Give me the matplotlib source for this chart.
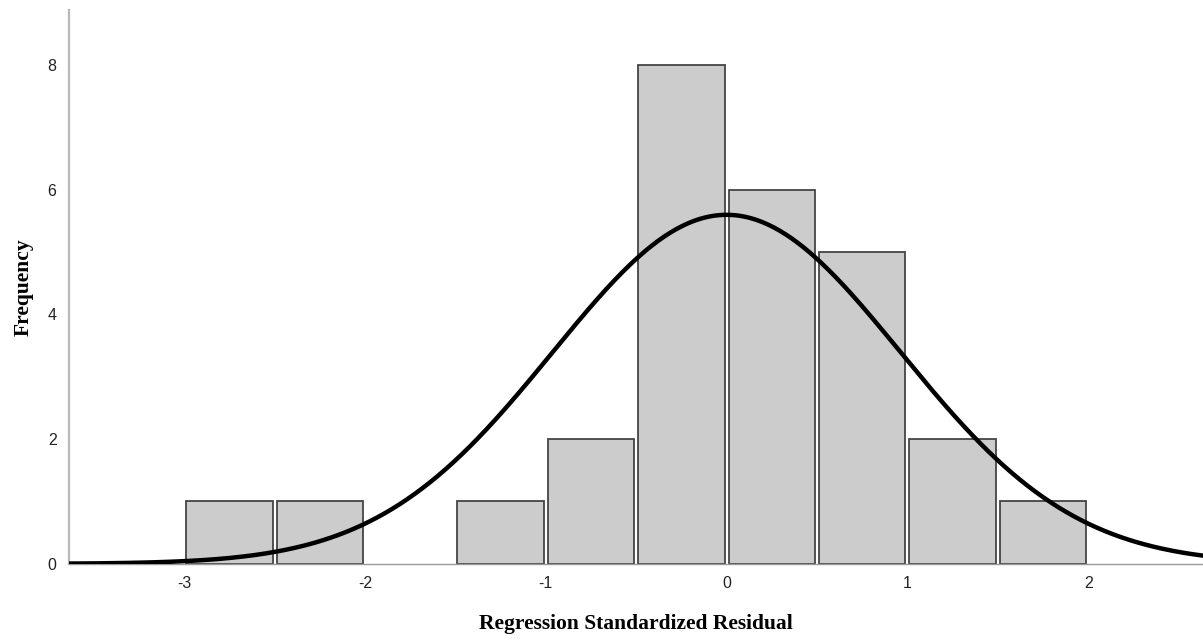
import numpy as np
import matplotlib
matplotlib.use("Agg")
import matplotlib.pyplot as plt

plt.rcParams["axes.unicode_minus"] = False

# histogram of standardized residuals (bin width 0.5)
bin_left = [-3.0, -2.5, -2.0, -1.5, -1.0, -0.5, 0.0, 0.5, 1.0, 1.5]
counts = [1, 1, 0, 1, 2, 8, 6, 5, 2, 1]
bin_width = 0.5

# normal curve fitted to the residuals
n_obs = 27
mean_res = 0.0
std_res = 0.962

xticks = [-3, -2, -1, 0, 1, 2]
yticks = [0, 2, 4, 6, 8]

fig = plt.figure(figsize=(12.03, 6.4), dpi=100)
ax = fig.add_axes([0.0574, 0.119, 0.9426, 0.865])

# empty bins are not drawn at all
left = np.array(bin_left)
cnt = np.array(counts)
keep = cnt > 0
gap = 0.022
ax.bar(left[keep] + gap / 2, cnt[keep], width=bin_width - gap, align="edge",
       color="#cccccc", edgecolor="#444444", linewidth=1.3, zorder=2)

xs = np.linspace(-3.7, 2.7, 600)
ys = n_obs * bin_width / (std_res * np.sqrt(2 * np.pi)) * np.exp(-0.5 * ((xs - mean_res) / std_res) ** 2)
ax.plot(xs, ys, color="black", linewidth=3.2, zorder=3)

ax.set_xlim(-3.637, 2.635)
ax.set_ylim(0, 8.88)
ax.set_xticks(xticks)
ax.set_yticks(yticks)
ax.tick_params(length=0, labelsize=11.5, colors="#222222", pad=9)
for lab in ax.get_xticklabels() + ax.get_yticklabels():
    lab.set_family("Liberation Sans")

for s in ["top", "right"]:
    ax.spines[s].set_visible(False)
ax.spines["left"].set_color("#b8b8b8")
ax.spines["left"].set_linewidth(1.6)
ax.spines["bottom"].set_color("#999999")
ax.spines["bottom"].set_linewidth(1.0)

ax.set_xlabel("Regression Standardized Residual", family="Liberation Serif",
              fontweight="bold", fontsize=15.5, labelpad=16)
ax.set_ylabel("Frequency", family="Liberation Serif", fontweight="bold",
              fontsize=15.5, labelpad=10)

fig.savefig("out.png", dpi=100)
